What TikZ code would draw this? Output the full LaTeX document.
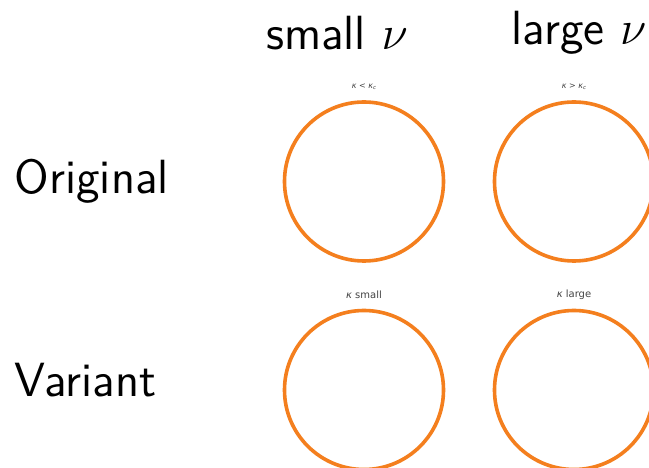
\documentclass[tikz,border=0pt]{standalone}
\usepackage{fontspec}
\newfontfamily\plotfont{DejaVu Sans}
\definecolor{ring}{HTML}{F47F1E}
\definecolor{plotgray}{HTML}{444444}
\begin{document}
\begin{tikzpicture}[x=1pt,y=-1pt,
  ringnode/.style={circle,draw=ring,line width=3.6pt,minimum size=159pt,inner sep=0pt,outer sep=0pt},
  header/.style={font=\fontsize{12}{14}\selectfont\sffamily,inner sep=0pt,scale=4,transform shape},
  rowlabel/.style={font=\fontsize{12}{14}\selectfont\sffamily,inner sep=0pt,anchor=west,scale=4,transform shape},
  plottitle/.style={font=\fontsize{10}{12}\selectfont\plotfont,text=plotgray,inner sep=0pt}]
\useasboundingbox (0,0) rectangle (649,468);
\clip (0,0) rectangle (649,468);
\fill[white] (0,0) rectangle (649,468);
\node[header] (hsmall) at (337,33) {small $\nu$};
\node[header] (hlarge) at (579,33) {large $\nu$};
\node[rowlabel] (rorig) at (14,181) {Original};
\node[rowlabel] (rvar) at (14,380) {Variant};
\node[ringnode] (c11) at (364,181.5) {};
\node[ringnode] (c12) at (574,181.5) {};
\node[ringnode] (c21) at (364,390) {};
\node[ringnode] (c22) at (574,390) {};
\node[plottitle,font=\fontsize{8}{10}\selectfont\plotfont] (t11) at (364,87) {{\itshape κ} < {\itshape κ}\raisebox{-0.25ex}{\fontsize{5.5}{6}\selectfont\itshape c}};
\node[plottitle,font=\fontsize{8}{10}\selectfont\plotfont] (t12) at (574,87) {{\itshape κ} > {\itshape κ}\raisebox{-0.25ex}{\fontsize{5.5}{6}\selectfont\itshape c}};
\node[plottitle] (t21) at (364,295) {{\itshape κ} small};
\node[plottitle] (t22) at (574,295) {{\itshape κ} large};
\end{tikzpicture}
\end{document}
